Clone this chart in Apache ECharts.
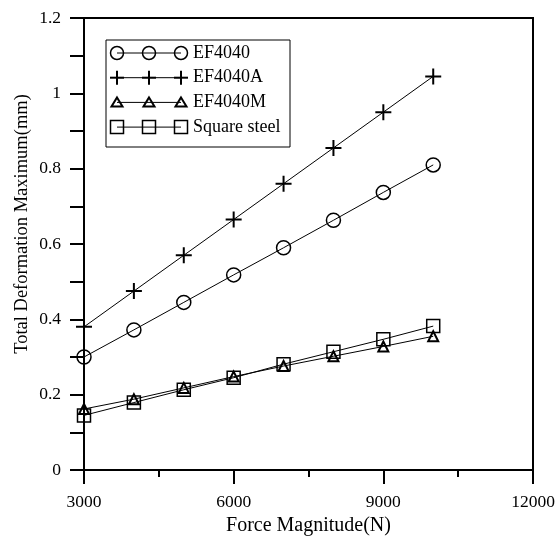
<!DOCTYPE html>
<html><head><meta charset="utf-8">
<script src="https://cdn.jsdelivr.net/npm/echarts@6/dist/echarts.min.js"></script>
<style>html,body{margin:0;padding:0;background:#fff}#c{width:560px;height:537px}</style>
</head><body><div id="c"></div>
<script>
const forces = [3000, 4000, 5000, 6000, 7000, 8000, 9000, 10000];
const ef4040 = [0.300, 0.372, 0.445, 0.518, 0.590, 0.663, 0.737, 0.810];
const ef4040A = [0.380, 0.475, 0.570, 0.665, 0.760, 0.855, 0.950, 1.045];
const ef4040M = [0.162, 0.188, 0.218, 0.248, 0.276, 0.302, 0.328, 0.355];
const squareSteel = [0.145, 0.179, 0.213, 0.245, 0.281, 0.314, 0.347, 0.382];
const seriesNames = ['EF4040', 'EF4040A', 'EF4040M', 'Square steel'];
const xTicks = [3000, 6000, 9000, 12000];

const FONT = '"Liberation Serif", "Times New Roman", serif';
const plusPath = 'path://M5,0 L5,10 M0,5 L10,5';
const symbols = [
  {symbol: 'circle', size: 14, bw: 1.5},
  {symbol: plusPath, size: 16, bw: 2},
  {symbol: 'triangle', size: 10, bw: 2},
  {symbol: 'rect', size: 13, bw: 1.5}
];
const datasets = [ef4040, ef4040A, ef4040M, squareSteel];

const chart = echarts.init(document.getElementById('c'));
const series = datasets.map((vals, i) => ({
  name: seriesNames[i],
  type: 'line',
  data: forces.map((f, k) => [f, vals[k]]),
  symbol: symbols[i].symbol,
  symbolSize: symbols[i].size,
  lineStyle: {color: '#000', width: 1},
  itemStyle: {color: 'rgba(0,0,0,0)', borderColor: '#000', borderWidth: symbols[i].bw},
  animation: false,
  z: 3
}));

// custom legend (three markers joined by a line, as in the reference)
const lg = {x: 106, y: 40, w: 184, h: 107};
const graphics = [{type: 'rect', shape: {x: lg.x, y: lg.y, width: lg.w, height: lg.h},
  style: {fill: '#fff', stroke: '#000', lineWidth: 1}, z: 10}];
seriesNames.forEach((n, i) => {
  const cy = 53 + i * 24.7;
  graphics.push({type: 'line', shape: {x1: 117, y1: cy, x2: 181, y2: cy}, style: {stroke: '#000', lineWidth: 1}, z: 11});
  [117, 149, 181].forEach(cx => {
    let el;
    if (i === 0) el = {type: 'circle', shape: {cx: cx, cy: cy, r: 6.5}, style: {fill: 'rgba(0,0,0,0)', stroke: '#000', lineWidth: 1.5}};
    else if (i === 1) el = {type: 'line', shape: {x1: cx - 7, y1: cy, x2: cx + 7, y2: cy}, style: {stroke: '#000', lineWidth: 2}};
    else if (i === 2) el = {type: 'polygon', shape: {points: [[cx, cy - 5], [cx + 5.5, cy + 4], [cx - 5.5, cy + 4]]}, style: {fill: 'rgba(0,0,0,0)', stroke: '#000', lineWidth: 2}};
    else el = {type: 'rect', shape: {x: cx - 6.5, y: cy - 6.5, width: 13, height: 13}, style: {fill: 'rgba(0,0,0,0)', stroke: '#000', lineWidth: 1.5}};
    el.z = 12;
    graphics.push(el);
    if (i === 1) graphics.push({type: 'line', shape: {x1: cx, y1: cy - 7, x2: cx, y2: cy + 7}, style: {stroke: '#000', lineWidth: 2}, z: 12});
  });
  graphics.push({type: 'text', x: 193, y: cy, style: {text: n, font: '18px ' + FONT, fill: '#000', verticalAlign: 'middle'}, z: 12});
});
// top and right frame
graphics.push({type: 'polyline', shape: {points: [[84, 18], [533, 18], [533, 470]]}, style: {stroke: '#000', lineWidth: 2, fill: null}, z: 5});

chart.setOption({
  animation: false,
  backgroundColor: '#fff',
  grid: {left: 84, right: 27, top: 18, bottom: 67, containLabel: false, outerBoundsMode: 'none'},
  xAxis: {
    type: 'value', min: 3000, max: 12000, interval: 3000,
    name: 'Force Magnitude(N)', nameLocation: 'middle', nameGap: 41,
    nameTextStyle: {fontFamily: FONT, fontSize: 20, color: '#000'},
    axisLine: {show: true, lineStyle: {color: '#000', width: 2}},
    axisTick: {show: true, length: 14, lineStyle: {color: '#000', width: 2}},
    minorTick: {show: true, splitNumber: 2, length: 7, lineStyle: {color: '#000', width: 2}},
    axisLabel: {fontFamily: FONT, fontSize: 17.5, color: '#000', margin: 23,
      formatter: v => xTicks.includes(v) ? String(v) : ''},
    splitLine: {show: false}
  },
  yAxis: {
    type: 'value', min: 0, max: 1.2, interval: 0.2,
    name: 'Total Deformation Maximum(mm)', nameLocation: 'middle', nameGap: 52,
    nameMoveOverlap: false,
    nameTextStyle: {fontFamily: FONT, fontSize: 18.5, color: '#000', padding: [0, 0, 0, 40]},
    axisLine: {show: true, lineStyle: {color: '#000', width: 2}},
    axisTick: {show: true, length: 14, lineStyle: {color: '#000', width: 2}},
    minorTick: {show: true, splitNumber: 2, length: 14, lineStyle: {color: '#000', width: 2}},
    axisLabel: {fontFamily: FONT, fontSize: 17.5, color: '#000', margin: 23,
      formatter: v => String(Math.round(v * 10) / 10)},
    splitLine: {show: false}
  },
  series: series,
  graphic: graphics
});
</script></body></html>
